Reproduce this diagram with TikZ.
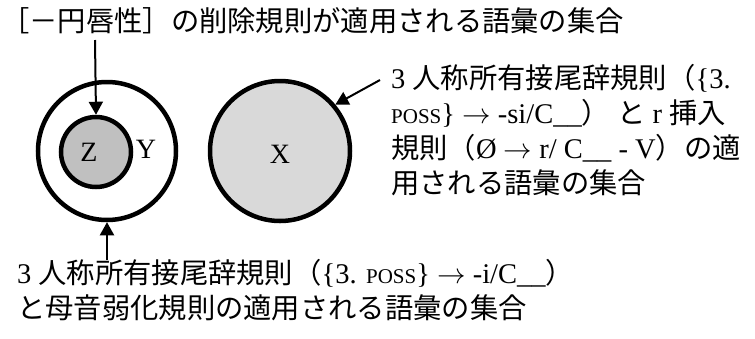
\documentclass[tikz,border=0pt]{standalone}
\usepackage{fix-cm}
\usepackage{fontspec}
\setmainfont{Liberation Serif}
\newfontfamily\jp{Noto Sans CJK JP}[Scale=0.993]
\usetikzlibrary{arrows.meta}
\newcommand{\possmark}{{\fontsize{21}{21}\selectfont POSS}}
\newcommand{\rarr}{$\rightarrow$}
\definecolor{zfill}{HTML}{C0C0C0}
\definecolor{xfill}{HTML}{D9D9D9}
\tikzset{
  setring/.style={circle, draw=black, line width=4.5pt, inner sep=0pt},
  pointer/.style={line width=2pt, -{Triangle[length=13pt,width=14pt]}},
  label text/.style={inner sep=0pt, align=left, font=\fontsize{28.5}{35}\selectfont},
}
\begin{document}
\begin{tikzpicture}[x=1pt,y=-1pt]
\useasboundingbox (0,0) rectangle (755,338);
% sets
\node[setring, minimum size=138pt] (outer) at (107,151) {};
\node[setring, fill=zfill, minimum size=70pt] (inner) at (96,152) {};
\node[setring, fill=xfill, minimum size=140pt] (xset) at (280,151) {};
\node[font=\fontsize{28}{28}\selectfont] (zl) at (89,152) {Z};
\node[font=\fontsize{28}{28}\selectfont] (yl) at (146,149) {Y};
\node[font=\fontsize{28}{28}\selectfont] (xl) at (280,154) {X};
% texts
\node[label text, anchor=base west] (top) at (1,31)
  {\jp ［－円唇性］の削除規則が適用される語彙の集合};
\node[label text, anchor=north west] (right) at (391,64)
  {3 {\jp 人称所有接尾辞規則（}\{3.\\
   \possmark\} \rarr{} -si/C\_\_{\jp ）} {\jp と} r {\jp 挿入}\\
   {\jp 規則（}Ø \rarr{} r/ C\_\_ - V{\jp ）の適}\\
   {\jp 用される語彙の集合}};
\node[label text, anchor=north west] (bottom) at (17,259)
  {3 {\jp 人称所有接尾辞規則（}\{3. \possmark\} \rarr{} -i/C\_\_{\jp ）}\\
   {\jp と母音弱化規則の適用される語彙の集合}};
% pointers
\coordinate (t1) at (95,40);
\coordinate (b1) at (107,260);
\coordinate (r1) at (380,80);
\draw[pointer] (t1) -- (inner.north);
\draw[pointer] (b1) -- (outer.south);
\draw[pointer] (r1) -- (xset.40);
\end{tikzpicture}
\end{document}
